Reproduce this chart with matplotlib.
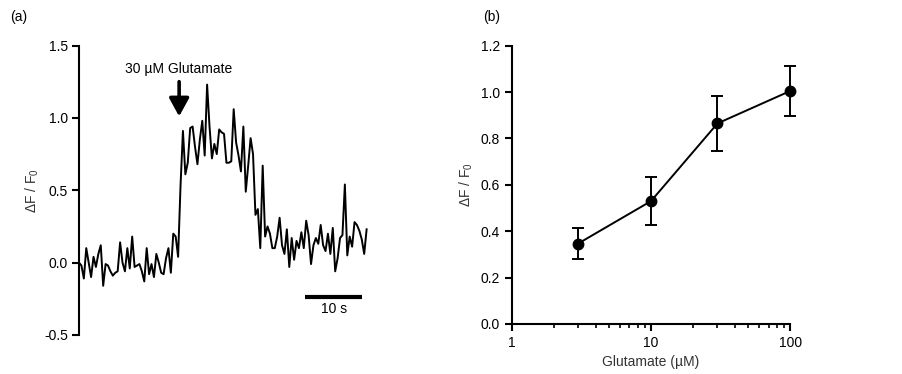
import numpy as np
import matplotlib
matplotlib.use("Agg")
import matplotlib.pyplot as plt
from matplotlib.ticker import FixedLocator, FixedFormatter, LogLocator, NullFormatter

plt.rcParams["font.family"] = ["Liberation Sans", "DejaVu Sans"]
plt.rcParams["mathtext.fontset"] = "custom"
plt.rcParams["mathtext.rm"] = "Liberation Sans"
plt.rcParams["mathtext.it"] = "Liberation Sans"

# (a) 单细胞荧光轨迹, 采样间隔 dt 秒
dt = 0.42
trace = [0.00, -0.02, -0.11, 0.10, 0.00, -0.10, 0.04, -0.03, 0.06, 0.12,
         -0.16, -0.01, -0.02, -0.06, -0.09, -0.07, -0.06, 0.14, 0.00, -0.06,
         0.10, -0.04, 0.18, -0.03, -0.02, -0.01, -0.06, -0.13, 0.10, -0.08,
         -0.01, -0.10, 0.06, 0.00, -0.07, -0.08, 0.03, 0.10, -0.07, 0.20,
         0.18, 0.04, 0.53, 0.91, 0.61, 0.69, 0.93, 0.94, 0.80, 0.68,
         0.85, 0.98, 0.74, 1.23, 0.94, 0.72, 0.82, 0.75, 0.92, 0.90,
         0.89, 0.69, 0.69, 0.70, 1.06, 0.83, 0.74, 0.63, 0.94, 0.49,
         0.67, 0.86, 0.75, 0.33, 0.37, 0.10, 0.67, 0.18, 0.25, 0.20,
         0.10, 0.10, 0.18, 0.31, 0.12, 0.06, 0.23, -0.03, 0.17, 0.02,
         0.15, 0.10, 0.21, 0.10, 0.29, 0.19, -0.01, 0.12, 0.17, 0.13,
         0.26, 0.12, 0.08, 0.20, 0.06, 0.24, -0.06, 0.03, 0.17, 0.19,
         0.54, 0.05, 0.18, 0.11, 0.28, 0.26, 0.22, 0.16, 0.06, 0.23]
t = np.arange(len(trace)) * dt

# (b) 剂量-反应
conc = [3, 10, 30, 100]
resp = [0.347, 0.530, 0.865, 1.005]
err = [0.066, 0.105, 0.117, 0.108]

ylab = r"$\Delta$F / F$_0$"

fig = plt.figure(figsize=(9.03, 3.74), dpi=100)

# ---- (a) ----
ax1 = fig.add_axes([0.0875, 0.1043, 0.325, 0.774])
ax1.plot(t, trace, color="black", lw=1.4)
ax1.set_xlim(0, 51)
ax1.set_ylim(-0.5, 1.5)
ax1.set_yticks([-0.5, 0.0, 0.5, 1.0, 1.5])
ax1.set_yticklabels(["-0.5", "0.0", "0.5", "1.0", "1.5"])
for s in ["top", "right", "bottom"]:
    ax1.spines[s].set_visible(False)
ax1.spines["left"].set_linewidth(1.5)
ax1.set_xticks([])
ax1.tick_params(axis="y", direction="out", length=5, width=1.5, labelsize=10, pad=3)
ax1.set_ylabel(ylab, fontsize=10, color="#333333", labelpad=2)

# 刺激箭头
ax1.annotate("", xy=(17.4, 1.01), xytext=(17.4, 1.25),
             arrowprops=dict(arrowstyle="-|>,head_width=0.6,head_length=1.1",
                             color="black", lw=2.6, shrinkA=0, shrinkB=0))
ax1.text(17.3, 1.34, "30 µM Glutamate", ha="center", va="center", fontsize=10)

# 比例尺 10 s
ax1.plot([39.2, 49.2], [-0.235, -0.235], color="black", lw=3, solid_capstyle="butt")
ax1.text(44.3, -0.32, "10 s", ha="center", va="center", fontsize=10)

fig.text(0.011, 0.955, "(a)", fontsize=10, ha="left", va="center")

# ---- (b) ----
ax2 = fig.add_axes([0.5667, 0.1337, 0.3085, 0.744])
ax2.errorbar(conc, resp, yerr=err, fmt="-o", color="black", lw=1.4,
             ms=7.5, elinewidth=1.4, capsize=4, capthick=1.4, clip_on=False)
ax2.set_xscale("log")
ax2.set_xlim(1, 100)
ax2.set_ylim(0, 1.2)
ax2.set_yticks(np.arange(0, 1.21, 0.2))
ax2.set_yticklabels([f"{v:.1f}" for v in np.arange(0, 1.21, 0.2)])
ax2.xaxis.set_major_locator(FixedLocator([1, 10, 100]))
ax2.xaxis.set_major_formatter(FixedFormatter(["1", "10", "100"]))
ax2.xaxis.set_minor_locator(LogLocator(base=10, subs=np.arange(2, 10)))
ax2.xaxis.set_minor_formatter(NullFormatter())
for s in ["top", "right"]:
    ax2.spines[s].set_visible(False)
for s in ["left", "bottom"]:
    ax2.spines[s].set_linewidth(1.5)
ax2.tick_params(axis="both", which="major", direction="out", length=5, width=1.5, labelsize=10)
ax2.tick_params(axis="x", which="minor", direction="out", length=3, width=1.2)
ax2.set_xlabel("Glutamate (µM)", fontsize=10, color="#333333", labelpad=4)
ax2.set_ylabel(ylab, fontsize=10, color="#333333", labelpad=4)

fig.text(0.535, 0.955, "(b)", fontsize=10, ha="left", va="center")

fig.savefig("out.png", dpi=100)
